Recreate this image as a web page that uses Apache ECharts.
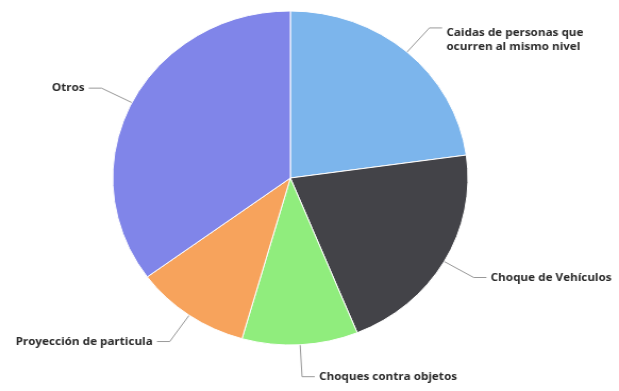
<!DOCTYPE html>
<html>
<head>
<meta charset="utf-8">
<script src="https://cdn.jsdelivr.net/npm/echarts@6/dist/echarts.min.js"></script>
<style>
  html, body { margin: 0; padding: 0; background: #ffffff; overflow: hidden; }
  #wrap { width: 619px; height: 391px; overflow: hidden; }
  /* the chart is drawn slightly narrower and widened to the full frame */
  #chart { width: 582px; height: 391px; transform: scaleX(1.0636); transform-origin: 0 0; }
</style>
</head>
<body>
<div id="wrap"><div id="chart"></div></div>
<script>
// Accident types and their counts
const categories = [
  'Caidas de personas que\nocurren al mismo nivel',
  'Choque de Vehículos',
  'Choques contra objetos',
  'Proyección de particula',
  'Otros'
];
const counts = [13, 12, 6, 6, 20];
const colors = ['#7cb5ec', '#434348', '#90ed7d', '#f7a35c', '#8085e9'];

const chart = echarts.init(document.getElementById('chart'), null, { renderer: 'canvas' });

chart.setOption({
  animation: false,
  backgroundColor: '#ffffff',
  series: [{
    type: 'pie',
    center: [273, 178],
    radius: [0, 167],
    startAngle: 90,
    clockwise: true,
    avoidLabelOverlap: false,
    data: categories.map((name, i) => ({
      name: name,
      value: counts[i],
      itemStyle: { color: colors[i] }
    })),
    itemStyle: { borderColor: '#ffffff', borderWidth: 1 },
    label: {
      show: true,
      position: 'outside',
      formatter: '{b}',
      fontFamily: 'Open Sans',
      fontSize: 11,
      fontWeight: 'bold',
      color: '#2a2a2a',
      lineHeight: 14,
      distanceToLabelLine: 4
    },
    // the two-line label hangs below its connector
    labelLayout: function (params) {
      return params.dataIndex === 0 ? { dy: 12 } : {};
    },
    labelLine: {
      show: true,
      length: 32,
      length2: 12,
      smooth: false,
      lineStyle: { color: '#999999', width: 1 }
    },
    emphasis: { disabled: true }
  }]
});
</script>
</body>
</html>
